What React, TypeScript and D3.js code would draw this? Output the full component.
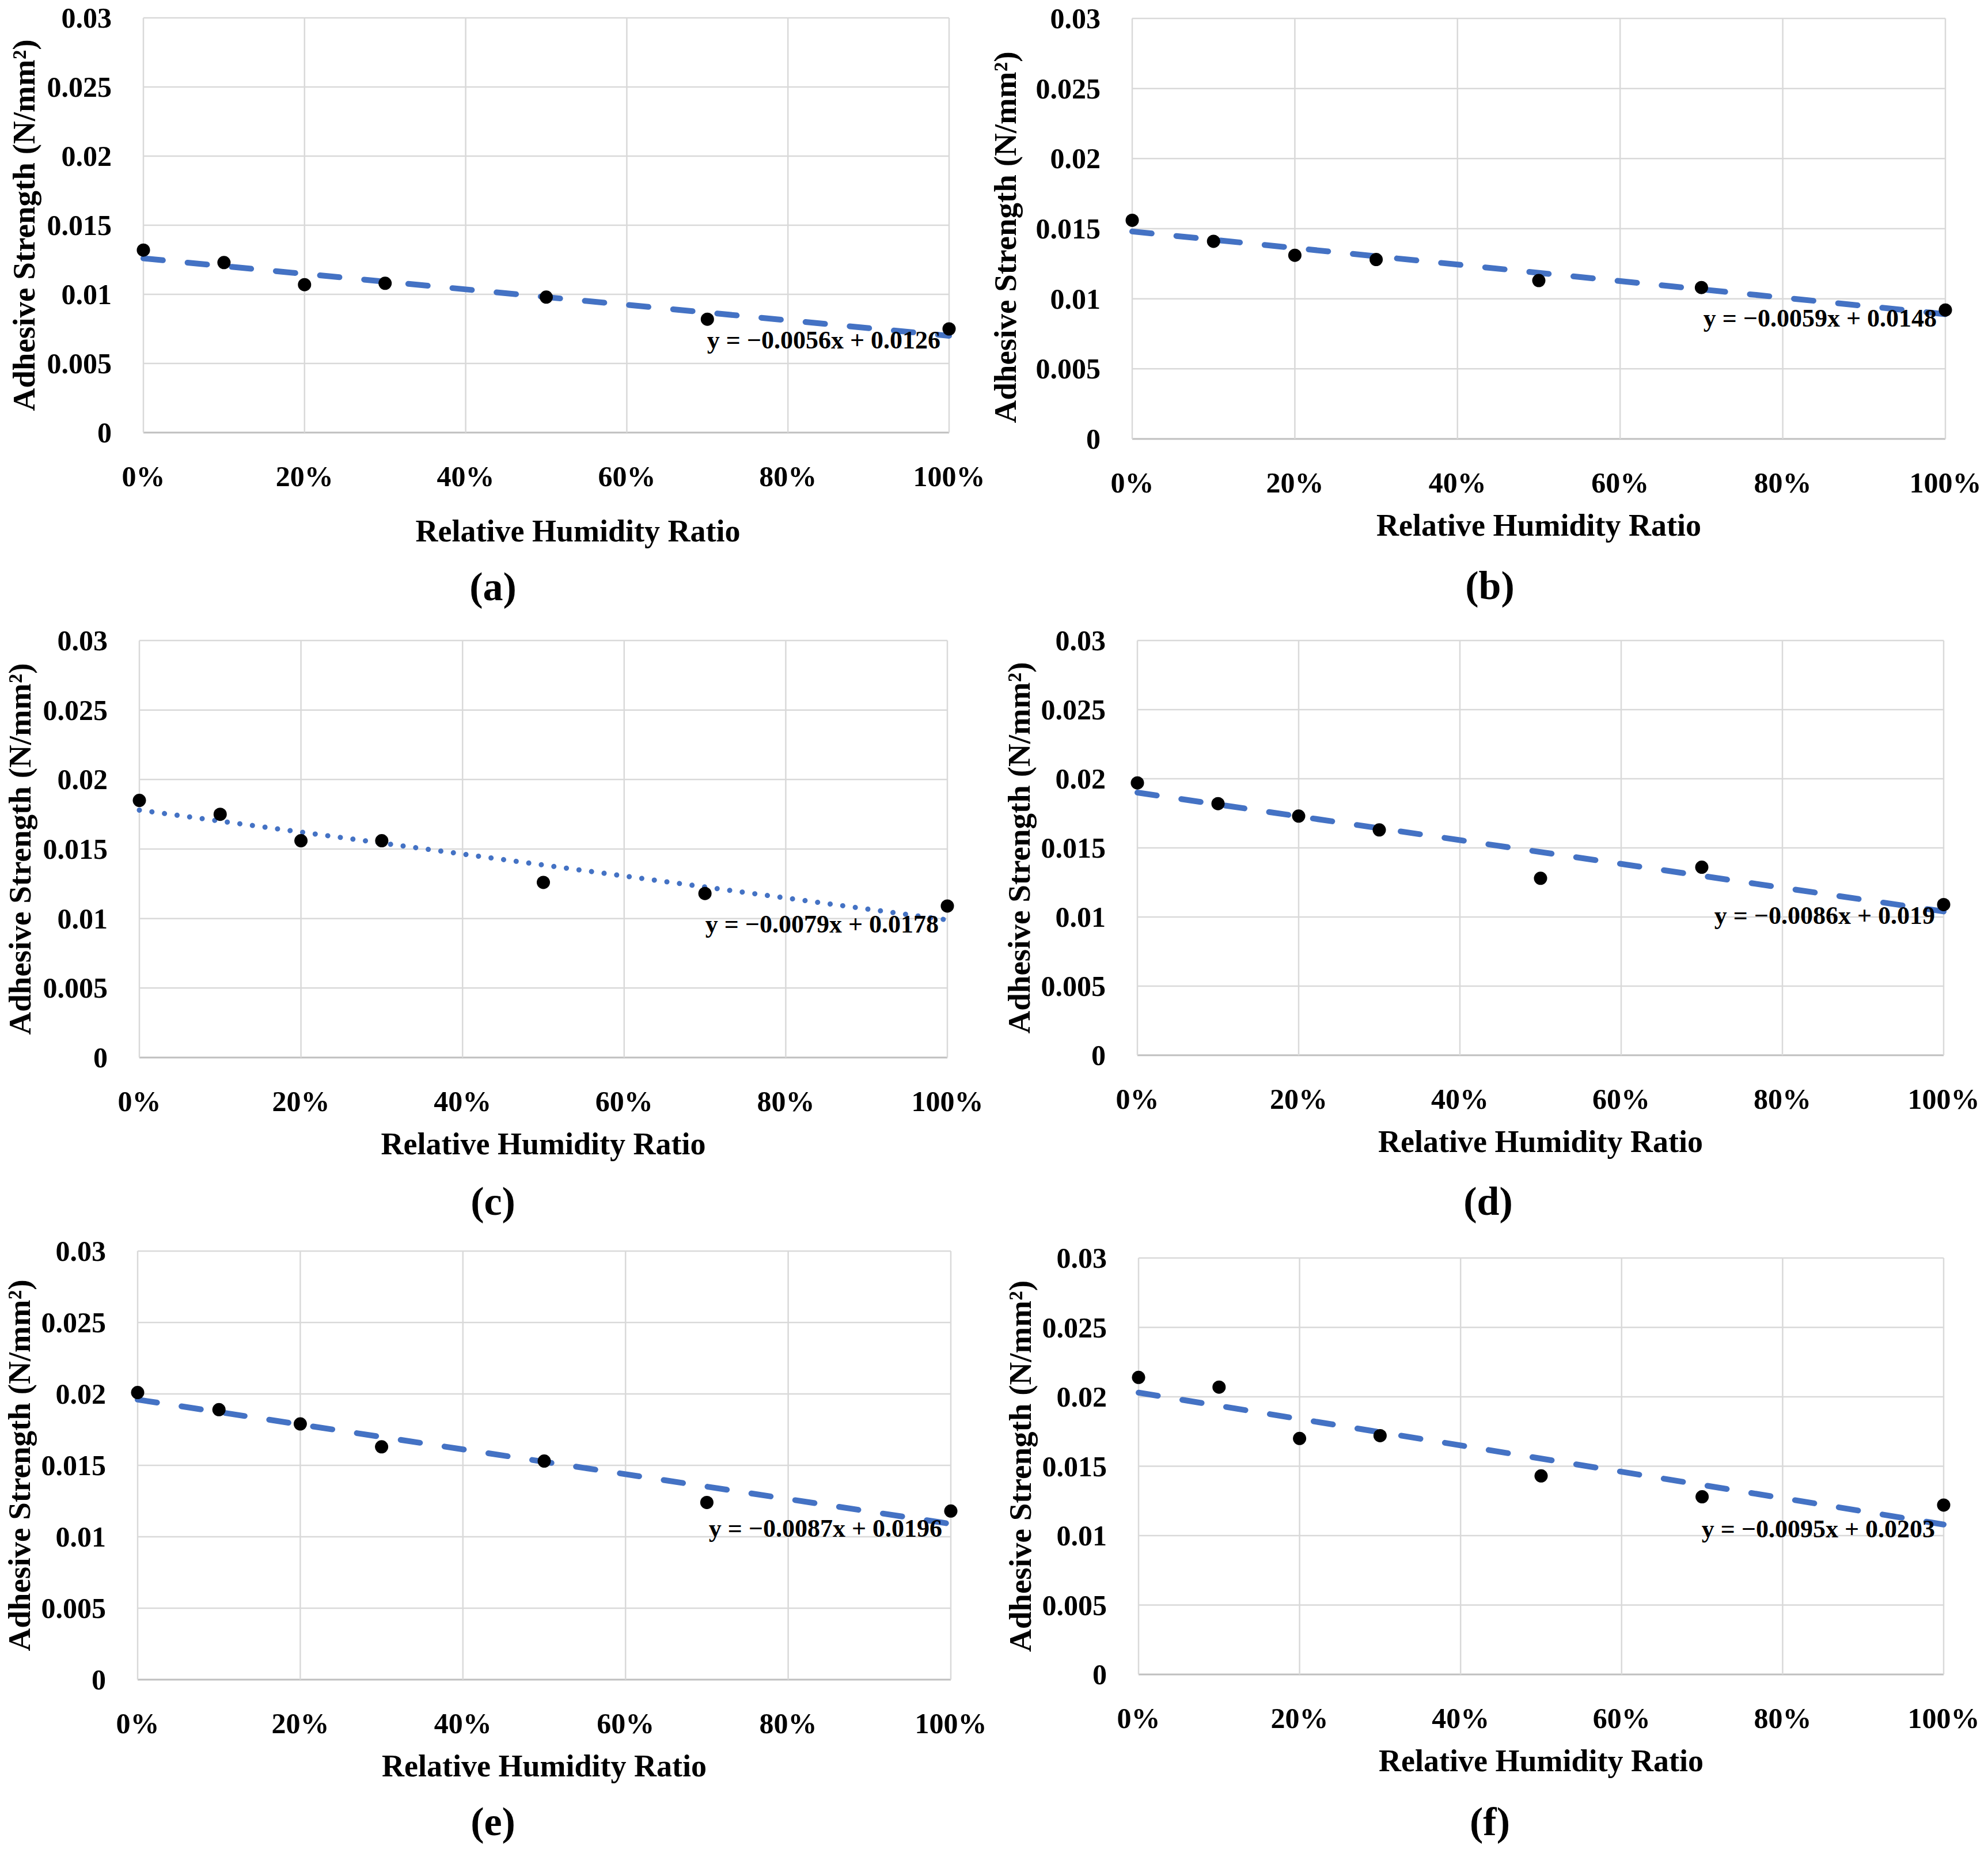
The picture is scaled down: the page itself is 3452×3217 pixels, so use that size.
import * as d3 from 'd3';

// relative humidity ratio of every measured point
const humidity = [0, 0.1, 0.2, 0.3, 0.5, 0.7, 1.0];

// adhesive strength (N/mm2) per panel
const strengthA = [0.0132, 0.0123, 0.0107, 0.0108, 0.0098, 0.0082, 0.0075];
const strengthB = [0.0156, 0.0141, 0.0131, 0.0128, 0.0113, 0.0108, 0.0092];
const strengthC = [0.0185, 0.0175, 0.0156, 0.0156, 0.0126, 0.0118, 0.0109];
const strengthD = [0.0197, 0.0182, 0.0173, 0.0163, 0.0128, 0.0136, 0.0109];
const strengthE = [0.0201, 0.0189, 0.0179, 0.0163, 0.0153, 0.0124, 0.0118];
const strengthF = [0.0214, 0.0207, 0.0170, 0.0172, 0.0143, 0.0128, 0.0122];

// linear trendlines as printed on the chart
const slopes = [-0.0056, -0.0059, -0.0079, -0.0086, -0.0087, -0.0095];
const intercepts = [0.0126, 0.0148, 0.0178, 0.019, 0.0196, 0.0203];
const equations = [
  'y = −0.0056x + 0.0126',
  'y = −0.0059x + 0.0148',
  'y = −0.0079x + 0.0178',
  'y = −0.0086x + 0.019',
  'y = −0.0087x + 0.0196',
  'y = −0.0095x + 0.0203',
];
const trendStyles = ['dash', 'dash', 'dot', 'dash', 'dash', 'dash'];
const captions = ['(a)', '(b)', '(c)', '(d)', '(e)', '(f)'];

const yTicks = [0, 0.005, 0.01, 0.015, 0.02, 0.025, 0.03];
const yTickLabels = ['0', '0.005', '0.01', '0.015', '0.02', '0.025', '0.03'];
const xTicks = [0, 0.2, 0.4, 0.6, 0.8, 1.0];
const xTickLabels = ['0%', '20%', '40%', '60%', '80%', '100%'];

const xTitle = 'Relative Humidity Ratio';
const yTitle = 'Adhesive Strength (N/mm²)';

const series = [strengthA, strengthB, strengthC, strengthD, strengthE, strengthF];

// where each panel sits on the page
const layout = [
  { left: 249, right: 1648, top: 31, bottom: 751, yTitleX: 60, yTitleDy: 0, titleDx: 55, titleDy: 189, capX: 856, capY: 1042 },
  { left: 1966, right: 3378, top: 32, bottom: 762, yTitleX: 1764, yTitleDy: 15, titleDx: 0, titleDy: 168, capX: 2587, capY: 1040 },
  { left: 242, right: 1645, top: 1112, bottom: 1836, yTitleX: 53, yTitleDy: 0, titleDx: 0, titleDy: 168, capX: 856, capY: 2109 },
  { left: 1975, right: 3375, top: 1112, bottom: 1832, yTitleX: 1788, yTitleDy: 0, titleDx: 0, titleDy: 168, capX: 2584, capY: 2109 },
  { left: 239, right: 1651, top: 2172, bottom: 2916, yTitleX: 52, yTitleDy: 0, titleDx: 0, titleDy: 168, capX: 856, capY: 3186 },
  { left: 1977, right: 3375, top: 2184, bottom: 2907, yTitleX: 1790, yTitleDy: 0, titleDx: 0, titleDy: 168, capX: 2587, capY: 3186 },
];

const FONT = "'Liberation Serif', 'DejaVu Serif', serif";
const BLUE = '#4472C4';
const GRID = '#D9D9D9';

function Panel({ index }: { index: number }) {
  const box = layout[index];
  const values = series[index];

  const x = d3.scaleLinear().domain([0, 1]).range([box.left, box.right]);
  const y = d3.scaleLinear().domain([0, 0.03]).range([box.bottom, box.top]);

  const trend = (v: number) => slopes[index] * v + intercepts[index];
  const trendPath = d3
    .line<number>()
    .x((d) => x(d))
    .y((d) => y(trend(d)))([0, 1]) as string;

  const dotted = trendStyles[index] === 'dot';
  const midX = (box.left + box.right) / 2;
  const midY = (box.top + box.bottom) / 2 + box.yTitleDy;

  return (
    <g fontFamily={FONT} fill="#000">
      {/* grid */}
      {yTicks.map((t) => (
        <line key={'h' + t} x1={box.left} x2={box.right} y1={y(t)} y2={y(t)}
          stroke={t === 0 ? '#BFBFBF' : GRID} strokeWidth={t === 0 ? 3 : 2.5} />
      ))}
      {xTicks.map((t) => (
        <line key={'v' + t} x1={x(t)} x2={x(t)} y1={box.top} y2={box.bottom}
          stroke={GRID} strokeWidth={2.5} />
      ))}

      {/* tick labels */}
      {yTicks.map((t, i) => (
        <text key={'yl' + t} x={box.left - 55} y={y(t) + 17} textAnchor="end"
          fontSize={50} fontWeight="bold">{yTickLabels[i]}</text>
      ))}
      {xTicks.map((t, i) => (
        <text key={'xl' + t} x={x(t)} y={box.bottom + 93} textAnchor="middle"
          fontSize={50} fontWeight="bold">{xTickLabels[i]}</text>
      ))}

      {/* trendline */}
      <path d={trendPath} fill="none" stroke={BLUE} strokeWidth={dotted ? 9 : 10}
        strokeLinecap="round"
        strokeDasharray={dotted ? '0.01 22' : '34 43'} />

      {/* points */}
      {values.map((v, i) => (
        <circle key={'p' + i} cx={x(humidity[i])} cy={y(v)} r={11.5} fill="#000" />
      ))}

      {/* trend equation */}
      <text x={box.right - 15} y={y(trend(1)) + 22} textAnchor="end"
        fontSize={44} fontWeight="bold">{equations[index]}</text>

      {/* axis titles */}
      <text x={midX + box.titleDx} y={box.bottom + box.titleDy} textAnchor="middle"
        fontSize={54} fontWeight="bold">{xTitle}</text>
      <text transform={`translate(${box.yTitleX},${midY}) rotate(-90)`} textAnchor="middle"
        fontSize={55} fontWeight="bold">{yTitle}</text>

      {/* panel caption */}
      <text x={box.capX} y={box.capY} textAnchor="middle" fontSize={70} fontWeight="bold">
        {captions[index]}
      </text>
    </g>
  );
}

export default function App() {
  return (
    <svg width={3452} height={3217} viewBox="0 0 3452 3217"
      style={{ position: 'absolute', left: 0, top: 0, background: '#fff' }}>
      <rect width={3452} height={3217} fill="#fff" />
      {layout.map((_, i) => (
        <Panel key={i} index={i} />
      ))}
    </svg>
  );
}
